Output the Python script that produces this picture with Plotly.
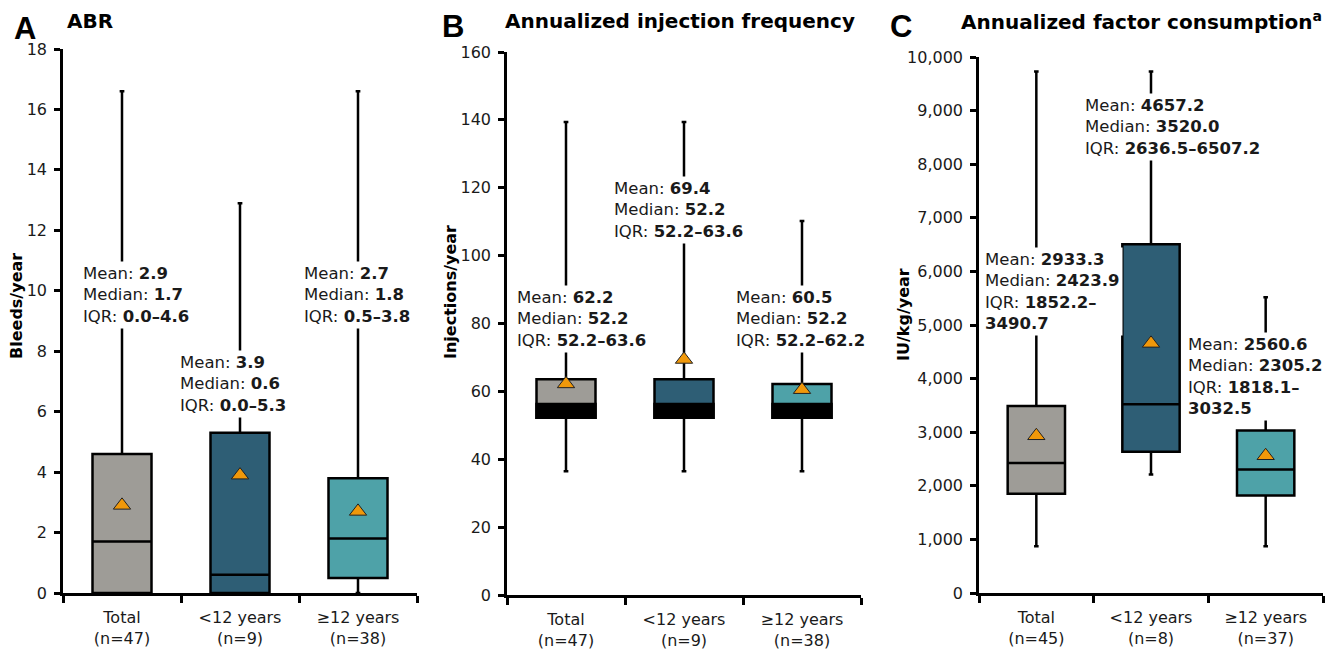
import plotly.graph_objects as go

# ---------------- data ----------------
cats_ab = ["Total<br>(n=47)", "&lt;12 years<br>(n=9)", "≥12 years<br>(n=38)"]
cats_c = ["Total<br>(n=45)", "&lt;12 years<br>(n=8)", "≥12 years<br>(n=37)"]

a_min = [0.0, 0.0, 0.0]
a_q1 = [0.0, 0.0, 0.5]
a_med = [1.7, 0.6, 1.8]
a_q3 = [4.6, 5.3, 3.8]
a_max = [16.6, 12.9, 16.6]
a_mean = [2.9, 3.9, 2.7]

b_min = [36.5, 36.5, 36.5]
b_q1 = [52.2, 52.2, 52.2]
b_med = [52.2, 52.2, 52.2]
b_q3 = [63.6, 63.6, 62.2]
b_max = [139.4, 139.4, 110.2]
b_mean = [62.2, 69.4, 60.5]
b_band_top = [56.3, 56.3, 56.3]   # thick median band top edge

c_min = [870, 2210, 870]
c_q1 = [1852.2, 2636.5, 1818.1]
c_med = [2423.9, 3520.0, 2305.2]
c_q3 = [3490.7, 6507.2, 3032.5]
c_max = [9730, 9730, 5520]
c_mean = [2933.3, 4657.2, 2560.6]

# ---------------- style ----------------
box_colors = ["#9E9C97", "#2E5E75", "#4EA2A8"]
tri_color = "#F0980A"
FONT = "DejaVu Sans"
LW = 2.5
W, H = 1338, 656
OFF = 8  # page body margin

fig = go.Figure()

panels = [
    dict(xa="x", ya="y", cats=cats_ab, mn=a_min, q1=a_q1, md=a_med, q3=a_q3, mx=a_max, mean=a_mean),
    dict(xa="x2", ya="y2", cats=cats_ab, mn=b_min, q1=b_q1, md=b_med, q3=b_q3, mx=b_max, mean=b_mean),
    dict(xa="x3", ya="y3", cats=cats_c, mn=c_min, q1=c_q1, md=c_med, q3=c_q3, mx=c_max, mean=c_mean),
]

for pi, p in enumerate(panels):
    for i in range(3):
        fig.add_trace(go.Box(
            x=[p["cats"][i]], q1=[p["q1"][i]], median=[p["md"][i]], q3=[p["q3"][i]],
            lowerfence=[p["mn"][i]], upperfence=[p["mx"][i]],
            width=0.5, whiskerwidth=0.08, fillcolor=box_colors[i],
            line=dict(color="black", width=LW), boxpoints=False,
            xaxis=p["xa"], yaxis=p["ya"], showlegend=False, hoverinfo="skip"))
    if pi == 1:
        for i in range(3):
            fig.add_trace(go.Box(
                x=[p["cats"][i]], q1=[b_med[i]], median=[b_med[i]], q3=[b_band_top[i]],
                lowerfence=[b_med[i]], upperfence=[b_band_top[i]],
                width=0.5, whiskerwidth=0, fillcolor="black",
                line=dict(color="black", width=LW), boxpoints=False,
                xaxis=p["xa"], yaxis=p["ya"], showlegend=False, hoverinfo="skip"))
    fig.add_trace(go.Scatter(
        x=p["cats"], y=p["mean"], mode="markers",
        marker=dict(symbol="triangle-up", size=15, color=tri_color,
                    line=dict(color="#222", width=1)),
        xaxis=p["xa"], yaxis=p["ya"], showlegend=False, hoverinfo="skip"))

# ---------------- axes ----------------
def px_x(v):
    return (v - OFF) / W

def px_y(v):
    return (H - (v - OFF)) / H

tick_font = dict(family=FONT, size=16, color="#1a1a1a")
xcommon = dict(type="category", range=[-0.5, 2.5], showline=True, linecolor="black",
               linewidth=LW, ticks="outside", tickson="boundaries", ticklen=7,
               tickwidth=LW, tickcolor="black", tickfont=tick_font, showgrid=False,
               zeroline=False, fixedrange=True, automargin=False, ticklabelstandoff=8)
ycommon = dict(showline=True, linecolor="black", linewidth=LW, ticks="outside",
               ticklen=6, tickwidth=LW, tickcolor="black", tickfont=tick_font,
               showgrid=False, zeroline=False, fixedrange=True, automargin=False,
               ticklabelstandoff=4)

fig.update_layout(
    template="none",
    width=W, height=H, margin=dict(l=0, r=0, t=0, b=0, autoexpand=False),
    paper_bgcolor="white", plot_bgcolor="white", boxmode="overlay",
    font=dict(family=FONT, color="#1a1a1a"),
    xaxis=dict(domain=[px_x(63), px_x(417)], anchor="y", **xcommon),
    yaxis=dict(domain=[px_y(593), px_y(49)], anchor="x", range=[0, 18], dtick=2, **ycommon),
    xaxis2=dict(domain=[px_x(507), px_x(861)], anchor="y2", **xcommon),
    yaxis2=dict(domain=[px_y(595), px_y(52)], anchor="x2", range=[0, 160], dtick=20, **ycommon),
    xaxis3=dict(domain=[px_x(979), px_x(1323)], anchor="y3", **xcommon),
    yaxis3=dict(domain=[px_y(593), px_y(57)], anchor="x3", range=[0, 10000], dtick=1000,
                tickformat=",", **ycommon),
)

# ---------------- stat annotations ----------------
def fmt(v):
    return f"{v:.1f}"

stat_layout = [
    # (xref, yref, [x offsets], [y positions], [iqr wrap])
    ("x", "y", [-0.36, -0.535, -0.485], [9.87, 6.92, 9.87], [False, False, False]),
    ("x2", "y2", [-0.44, -0.62, -0.585], [81.3, 113.4, 81.3], [False, False, False]),
    ("x3", "y3", [-0.47, -0.605, -0.705], [5625, 8694, 4039], [True, False, True]),
]

annotations = []
for p, (xr, yr, dxs, ys, wraps) in zip(panels, stat_layout):
    for i in range(3):
        sep = "–<br>" if wraps[i] else "–"
        txt = (f"Mean: <b>{fmt(p['mean'][i])}</b><br>"
               f"Median: <b>{fmt(p['md'][i])}</b><br>"
               f"IQR: <b>{fmt(p['q1'][i])}{sep}{fmt(p['q3'][i])}</b>")
        annotations.append(dict(
            x=i + dxs[i], y=ys[i], xref=xr, yref=yr, text=txt, showarrow=False,
            xanchor="left", yanchor="middle", align="left", bgcolor="white",
            borderpad=2, font=dict(family=FONT, size=16.5, color="#1a1a1a")))

# panel letters and titles
letters = [("A", 25, 28), ("B", 453, 27), ("C", 901, 27)]
for t, x, y in letters:
    annotations.append(dict(x=px_x(x), y=px_y(y), xref="paper", yref="paper", text=f"<b>{t}</b>",
                            showarrow=False, xanchor="center", yanchor="middle",
                            font=dict(family="Liberation Sans", size=31, color="black")))

titles = [("ABR", 65, "left"), ("Annualized injection frequency", 680, "center"),
          ("Annualized factor consumption<sup>a</sup>", 1141, "center")]
for t, x, anc in titles:
    annotations.append(dict(x=px_x(x), y=px_y(21), xref="paper", yref="paper", text=f"<b>{t}</b>",
                            showarrow=False, xanchor=anc, yanchor="middle",
                            font=dict(family=FONT, size=20, color="black")))

ytitles = [("Bleeds/year", 16, 306), ("Injections/year", 450, 292), ("IU/kg/year", 903, 315)]
for t, x, y in ytitles:
    annotations.append(dict(x=px_x(x), y=px_y(y), xref="paper", yref="paper", text=f"<b>{t}</b>",
                            showarrow=False, xanchor="center", yanchor="middle", textangle=-90,
                            font=dict(family=FONT, size=16, color="black")))

fig.update_layout(annotations=annotations)
fig.write_html("out.html")
